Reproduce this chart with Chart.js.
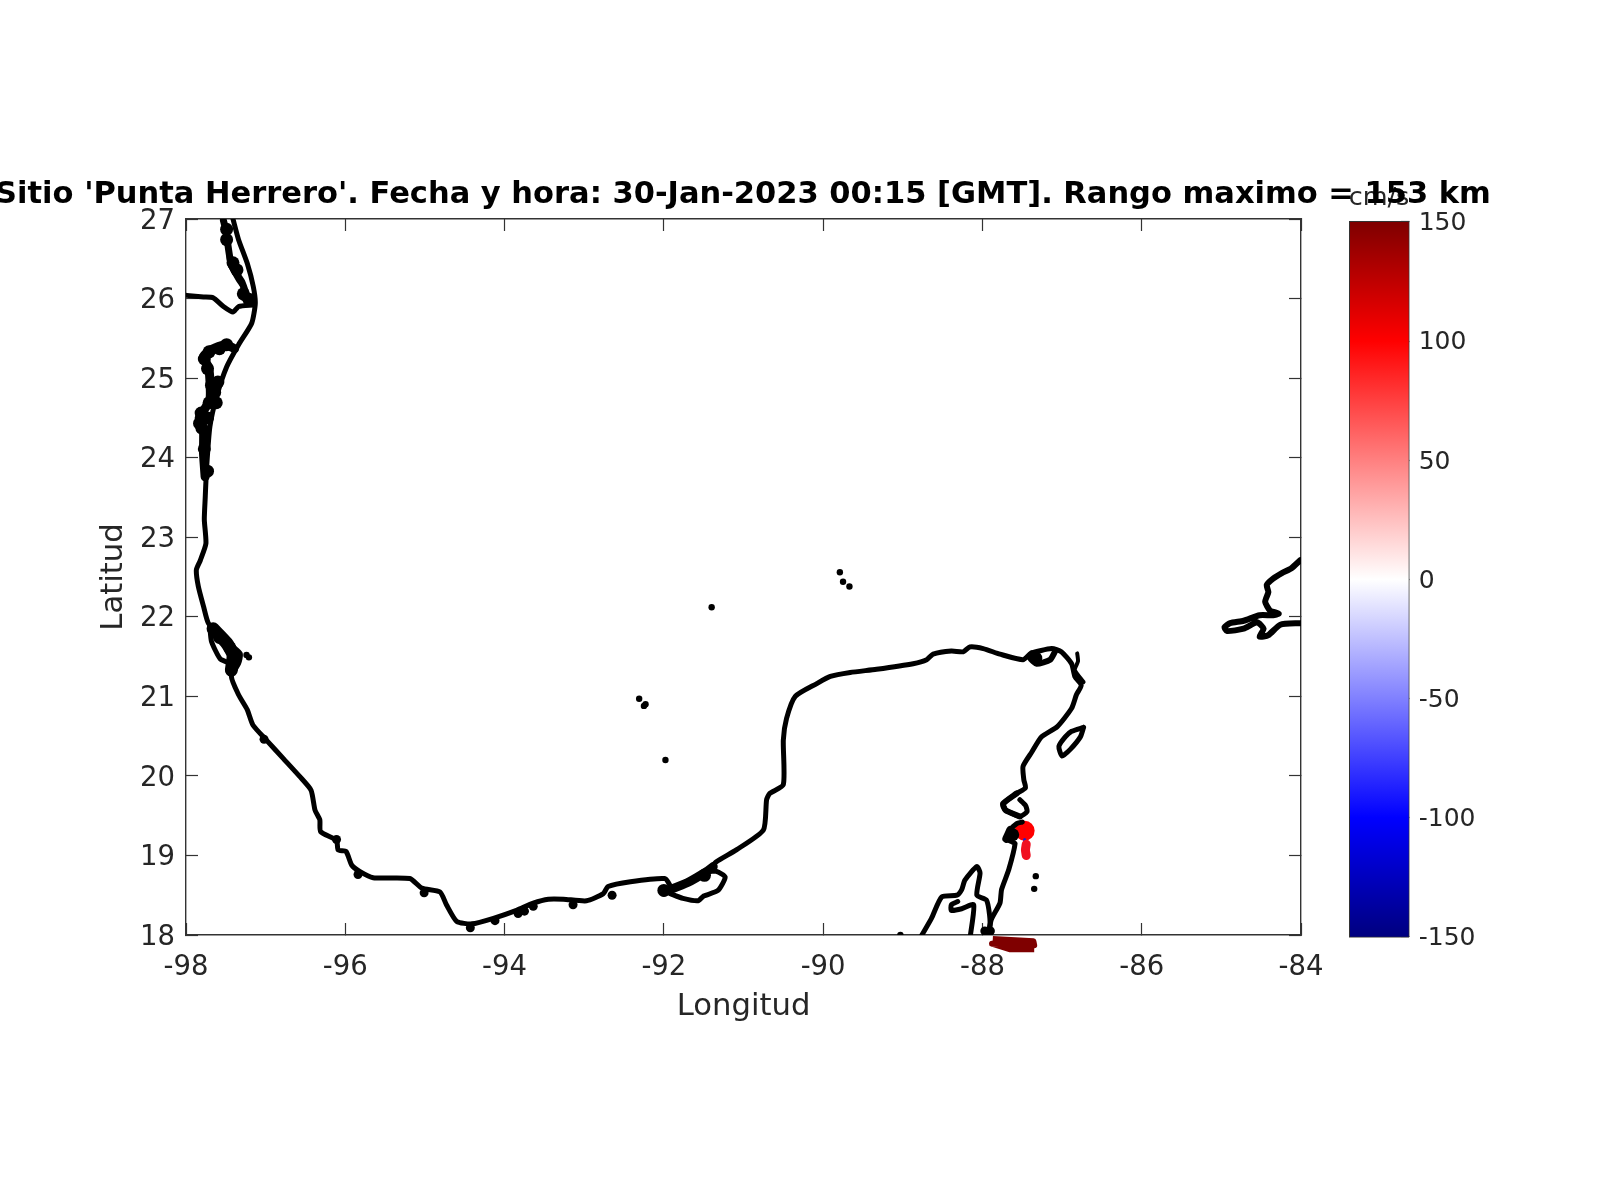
<!DOCTYPE html>
<html>
<head>
<meta charset="utf-8">
<title>Punta Herrero</title>
<script src="https://cdn.jsdelivr.net/npm/chart.js@4"></script>
<style>
  html, body { margin: 0; background: #fff; overflow: hidden; width: 1600px; height: 1200px; }
  canvas { position: absolute; }
  #cb { left: 1269px; top: 0; }
  #map { left: -55px; top: 0; }
</style>
</head>
<body>
<canvas id="cb" width="220" height="1000"></canvas>
<canvas id="map" width="1600" height="1200"></canvas>
<script>
// axis ticks
const lonTicks = [-98, -96, -94, -92, -90, -88, -86, -84];
const latTicks = [18, 19, 20, 21, 22, 23, 24, 25, 26, 27];
const cbTicks = [-150, -100, -50, 0, 50, 100, 150];
const cbColors = ['#00007f', '#0000ff', '#8080ff', '#ffffff', '#ff8080', '#ff0000', '#7f0000'];

// coastline (lon / lat)
const coastLon = [-97.41,-97.34,-97.23,-97.155,-97.13,-97.175,-97.34,-97.49,-97.615,-97.70,-97.74,-97.76,-97.77,-97.75,-97.82,-97.87,-97.845,-97.78,-97.72,-97.57,-97.32,-97.34,-97.43,-97.34,-97.23,-97.16,-96.99,-96.78,-96.57,-96.43,-96.38,-96.32,-96.31,-96.11,-96.09,-95.99,-95.92,-95.82,-95.65,-95.19,-95.04,-94.81,-94.73,-94.60,-94.41,-94.14,-93.85,-93.64,-93.45,-93.26,-92.97,-92.76,-92.70,-92.42,-91.99,-91.92,-92.00,-91.46,-91.34,-91.09,-90.75,-90.71,-90.67,-90.50,-90.50,-90.46,-90.35,-90.08,-89.91,-89.66,-89.33,-88.87,-88.70,-88.62,-88.39,-88.24,-88.16,-87.99,-87.78,-87.49,-87.39,-87.13,-87.01,-86.88,-86.84,-86.76,-86.82,-86.88,-87.06,-87.26,-87.38,-87.49,-87.48,-87.46,-87.57,-87.74,-87.71,-87.63,-87.53,-87.44,-87.46,-87.53];
const coastLat = [27.0,26.74,26.44,26.15,25.94,25.69,25.42,25.14,24.77,24.39,23.89,23.47,23.22,22.92,22.71,22.59,22.38,22.13,21.92,21.75,21.54,21.41,21.25,21.02,20.83,20.64,20.45,20.22,19.99,19.82,19.57,19.45,19.30,19.19,19.07,19.05,18.88,18.80,18.72,18.71,18.59,18.54,18.38,18.17,18.14,18.21,18.31,18.40,18.45,18.45,18.43,18.52,18.61,18.67,18.71,18.61,18.54,18.80,18.92,19.07,19.32,19.70,19.78,19.89,20.45,20.72,21.00,21.16,21.25,21.30,21.34,21.41,21.46,21.53,21.57,21.56,21.62,21.60,21.53,21.46,21.54,21.60,21.56,21.41,21.25,21.14,21.02,20.85,20.62,20.49,20.30,20.12,19.95,19.85,19.78,19.65,19.57,19.53,19.49,19.55,19.63,19.70];
const southLon = [-87.50,-87.57,-87.65,-87.70,-87.63,-87.59,-87.67,-87.76,-87.78,-87.89,-87.92];
const southLat = [19.42,19.40,19.32,19.21,19.17,19.15,18.82,18.57,18.40,18.19,18.0];

const bayLon = [-88.76,-88.64,-88.51,-88.32,-88.26,-88.22,-88.07,-88.03,-88.07,-87.95,-87.91,-87.91,-87.97];
const bayLat = [18.0,18.21,18.48,18.50,18.57,18.69,18.86,18.78,18.50,18.44,18.25,18.10,18.0];
const bayInnerLon = [-88.31,-88.39,-88.39,-88.26,-88.11,-88.15];
const bayInnerLat = [18.42,18.38,18.31,18.33,18.38,18.0];

const terminosLon = [-91.92,-91.76,-91.57,-91.50,-91.32,-91.23,-91.34,-91.44];
const terminosLat = [18.52,18.46,18.43,18.49,18.56,18.73,18.80,18.80];

const riverLon = [-97.99,-97.78,-97.66,-97.53,-97.41,-97.34,-97.16];
const riverLat = [26.04,26.02,26.01,25.90,25.83,25.90,25.92];
const barrierLon = [-97.53,-97.47,-97.45,-97.34,-97.26,-97.28];
const barrierLat = [26.99,26.69,26.44,26.23,26.11,26.00];

const cozumelLon = [-86.73,-86.88,-86.96,-87.04,-87.00,-86.90,-86.77,-86.73];
const cozumelLat = [20.61,20.56,20.49,20.37,20.25,20.33,20.49,20.61];
const holboxLon = [-87.38,-87.40,-87.32,-87.15,-87.09];
const holboxLat = [21.54,21.48,21.41,21.46,21.56];
const contoyLon = [-86.81,-86.80,-86.84,-86.73];
const contoyLat = [21.54,21.44,21.33,21.18];

const cubaLon = [-84.01,-84.12,-84.24,-84.35,-84.43,-84.41,-84.45,-84.39,-84.28,-84.35,-84.52,-84.72,-84.89,-84.96,-84.93,-84.72,-84.55,-84.47,-84.52,-84.41,-84.26,-84.01];
const cubaLat = [22.71,22.61,22.55,22.48,22.40,22.31,22.19,22.08,22.04,22.02,22.02,21.95,21.92,21.87,21.82,21.85,21.93,21.85,21.75,21.77,21.90,21.92];

// wide parts: lagoons and sand bars that read as solid black
const lagunaMadreLon = [-97.39,-97.51,-97.70,-97.78,-97.72,-97.70,-97.70,-97.82,-97.78,-97.78,-97.76];
const lagunaMadreLat = [25.37,25.42,25.35,25.27,25.14,24.98,24.73,24.51,24.35,24.05,23.76];
const lagunaNorteLon = [-97.53,-97.50,-97.43,-97.30,-97.22];
const lagunaNorteLat = [26.98,26.86,26.42,26.21,25.98];
const tamiahuaLon = [-97.66,-97.49,-97.41,-97.43];
const tamiahuaLat = [21.85,21.67,21.52,21.33];
const tamiahuaInnerLon = [-97.70,-97.68,-97.57,-97.45,-97.43];
const tamiahuaInnerLat = [21.87,21.69,21.47,21.41,21.29];
const carmenLon = [-92.00,-91.70,-91.46,-91.38];
const carmenLat = [18.54,18.66,18.80,18.86];
const ascensionLon = [-87.57,-87.74,-87.71,-87.53];
const ascensionLat = [19.78,19.65,19.57,19.49];
const espirituLon = [-87.65,-87.70];
const espirituLat = [19.32,19.21];

const bumpLon = [-97.02,-96.11,-95.84,-95.01,-94.43,-94.12,-93.83,-93.75,-93.64,-93.14,-92.65,-87.97,-87.90];
const bumpLat = [20.46,19.20,18.76,18.53,18.09,18.18,18.27,18.30,18.36,18.38,18.50,18.05,18.05];
const blobLon = [-97.71,-97.58,-97.49,-97.77,-97.68,-97.71,-97.64,-97.81,-97.80,-97.77,-97.73,-97.73,-97.60,-97.62,-97.73,-97.83,-97.81,-97.49,-97.49,-97.41,-97.36,-97.28,-97.21,-97.45,-97.58,-97.41,-87.62,-92.0,-91.49,-87.33];
const blobLat = [25.33,25.37,25.42,25.24,24.91,24.69,24.82,24.50,24.37,24.11,23.83,25.12,24.95,24.69,24.50,24.43,24.56,26.87,26.74,26.45,26.36,26.06,25.99,21.61,21.74,21.42,19.26,18.56,18.75,21.48];

// small islands
const isleLon = [-97.24,-97.21,-92.31,-92.23,-92.25,-91.98,-91.40,-89.79,-89.75,-89.67,-87.33,-87.35,-89.03];
const isleLat = [21.52,21.49,20.97,20.90,20.88,20.20,22.12,22.56,22.44,22.38,18.74,18.58,18.0];

// radar site and its current cells
const siteLon = [-87.47];
const siteLat = [19.31];
const cellsRedLon = [-87.45,-87.46,-87.45];
const cellsRedLat = [19.14,19.07,19.00];
const cellsBlueLon = [-87.47,-87.47];
const cellsBlueLat = [19.20,19.12];
// far sector below the axes, dark red
const sectorLon = [-87.87,-87.36,-87.35,-87.88,-87.65,-87.35];
const sectorLat = [17.95,17.92,17.87,17.89,17.82,17.82];

function pts(lon, lat) {
  return lon.map((v, i) => ({ x: v, y: lat[i] }));
}
function line(lon, lat, width, color) {
  return {
    data: pts(lon, lat),
    showLine: true,
    borderColor: color || '#000',
    borderWidth: width || 5,
    borderCapStyle: 'round',
    borderJoinStyle: 'round',
    tension: 0.2,
    pointRadius: 0,
    pointHoverRadius: 0
  };
}
function dots(lon, lat, r, color) {
  return {
    data: pts(lon, lat),
    showLine: false,
    pointRadius: r,
    pointBorderWidth: 0,
    pointBackgroundColor: color || '#000'
  };
}

const ink = '#262626';
const axisLine = { color: '#333', width: 1.4 };
const tickGrid = { display: true, drawOnChartArea: false, tickLength: -12, tickColor: '#333', tickWidth: 1.2 };
const fixedW = w => s => { s.width = w; };
const fixedH = h => s => { s.height = h; };
const setTicks = list => s => { s.ticks = list.map(v => ({ value: v })); };

const sectorSet = line(sectorLon, sectorLat, 6, '#7f0000');
sectorSet.clip = false;
sectorSet.tension = 0;
sectorSet.borderCapStyle = 'butt';

new Chart(document.getElementById('map'), {
  type: 'scatter',
  data: {
    datasets: [
      line(coastLon, coastLat),
      line(southLon, southLat),
      line(bayLon, bayLat),
      line(bayInnerLon, bayInnerLat),
      line(terminosLon, terminosLat),
      line(riverLon, riverLat),
      line(barrierLon, barrierLat),
      line(cozumelLon, cozumelLat),
      line(holboxLon, holboxLat, 6),
      line(contoyLon, contoyLat, 4),
      line(cubaLon, cubaLat, 6),
      line(lagunaMadreLon, lagunaMadreLat, 9),
      line(lagunaNorteLon, lagunaNorteLat, 7),
      line(tamiahuaLon, tamiahuaLat, 13),
      line(tamiahuaInnerLon, tamiahuaInnerLat, 5),
      line(carmenLon, carmenLat, 9),
      line(ascensionLon, ascensionLat, 6),
      line(espirituLon, espirituLat, 8),
      dots(bumpLon, bumpLat, 4.5),
      dots(blobLon, blobLat, 6.5),
      dots(isleLon, isleLat, 3.2),
      sectorSet,
      line(cellsRedLon, cellsRedLat, 9, '#f01020'),
      line(cellsBlueLon, cellsBlueLat, 3, '#1020e0'),
      dots(siteLon, siteLat, 10, '#ff0000')
    ]
  },
  options: {
    responsive: false,
    devicePixelRatio: 1,
    animation: false,
    layout: { padding: { left: 20, right: 24, top: 177, bottom: 165 } },
    plugins: {
      legend: { display: false },
      tooltip: { enabled: false },
      title: {
        display: true,
        text: "Sitio 'Punta Herrero'. Fecha y hora: 30-Jan-2023 00:15 [GMT]. Rango maximo = 153 km",
        color: '#000',
        font: { family: 'DejaVu Sans', size: 30.5, weight: 'bold', lineHeight: 1.2 },
        padding: { top: 0, bottom: 5.4 }
      }
    },
    scales: {
      x: {
        type: 'linear', position: 'bottom', min: -98, max: -84,
        afterBuildTicks: setTicks(lonTicks),
        afterFit: fixedH(100),
        border: axisLine,
        grid: tickGrid,
        ticks: { color: ink, padding: 28, maxRotation: 0, autoSkip: false, font: { family: 'DejaVu Sans', size: 27.5 } },
        title: { display: true, text: 'Longitud', color: ink, font: { family: 'DejaVu Sans', size: 30.7, lineHeight: 1.2 }, padding: { top: 0, bottom: 10 } }
      },
      x2: {
        type: 'linear', position: 'top', min: -98, max: -84,
        afterBuildTicks: setTicks(lonTicks),
        afterFit: fixedH(0),
        border: axisLine,
        grid: tickGrid,
        ticks: { display: false }
      },
      y: {
        type: 'linear', position: 'left', min: 18, max: 27,
        afterBuildTicks: setTicks(latTicks),
        afterFit: fixedW(221),
        border: axisLine,
        grid: tickGrid,
        ticks: { color: ink, padding: 23, labelOffset: 2.5, autoSkip: false, font: { family: 'DejaVu Sans', size: 27.5 } },
        title: { display: true, text: 'Latitud', color: ink, font: { family: 'DejaVu Sans', size: 30.7, lineHeight: 1.2 }, padding: { top: 131, bottom: 0 } }
      },
      y2: {
        type: 'linear', position: 'right', min: 18, max: 27,
        afterBuildTicks: setTicks(latTicks),
        afterFit: fixedW(220),
        border: axisLine,
        grid: tickGrid,
        ticks: { display: false }
      }
    }
  }
});

// colour bar
new Chart(document.getElementById('cb'), {
  type: 'bar',
  data: {
    labels: [''],
    datasets: [{
      data: [[cbTicks[0], cbTicks[cbTicks.length - 1]]],
      barPercentage: 1,
      categoryPercentage: 1,
      borderWidth: 0,
      backgroundColor(c) {
        const { chart } = c;
        if (!chart.chartArea) return cbColors[0];
        const y = chart.scales.y;
        const g = chart.ctx.createLinearGradient(0, y.getPixelForValue(-150), 0, y.getPixelForValue(150));
        cbColors.forEach((col, i) => g.addColorStop(i / (cbColors.length - 1), col));
        return g;
      }
    }]
  },
  options: {
    responsive: false,
    devicePixelRatio: 1,
    animation: false,
    layout: { padding: { bottom: 63.3 } },
    plugins: {
      legend: { display: false },
      tooltip: { enabled: false },
      title: {
        display: true,
        text: 'cm/s',
        color: ink,
        font: { family: 'DejaVu Sans', size: 25.5, weight: 'normal', lineHeight: 1.2 },
        padding: { top: 182.7, bottom: 8.7 }
      }
    },
    scales: {
      x: {
        afterFit: fixedH(0),
        border: axisLine,
        grid: { display: false },
        ticks: { display: false }
      },
      x2: {
        position: 'top',
        afterFit: fixedH(0),
        border: axisLine,
        grid: { display: false },
        ticks: { display: false }
      },
      yl: {
        type: 'linear', position: 'left', min: -150, max: 150,
        afterBuildTicks: setTicks([]),
        afterFit: fixedW(81),
        border: axisLine,
        grid: { display: false },
        ticks: { display: false }
      },
      y: {
        type: 'linear', position: 'right', min: -150, max: 150,
        afterBuildTicks: setTicks(cbTicks),
        afterFit: fixedW(80.3),
        border: axisLine,
        grid: { display: true, drawOnChartArea: false, tickLength: -8, tickColor: '#333', tickWidth: 1.2 },
        ticks: { color: ink, padding: 18, labelOffset: 1.8, autoSkip: false, font: { family: 'DejaVu Sans', size: 25 } }
      }
    }
  }
});
</script>
</body>
</html>
